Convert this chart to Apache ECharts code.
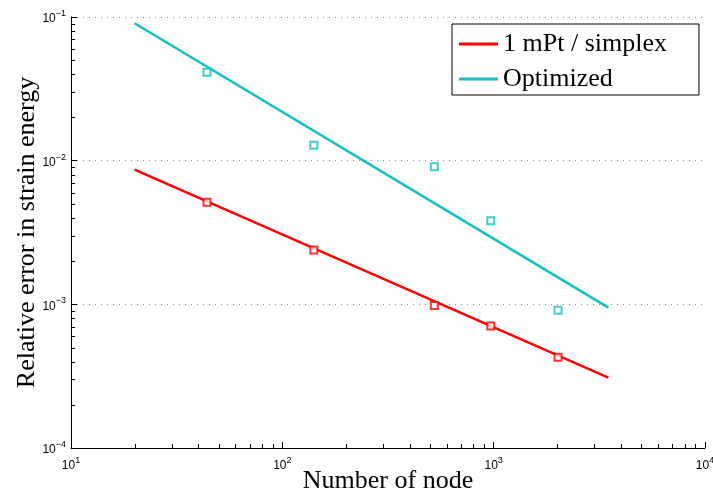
<!DOCTYPE html>
<html>
<head>
<meta charset="utf-8">
<script src="https://cdn.jsdelivr.net/npm/echarts@6/dist/echarts.min.js"></script>
<style>
html,body{margin:0;padding:0;background:#fff;}
#chart{width:713px;height:499px;}
</style>
</head>
<body>
<div id="chart"></div>
<script>
// Data
const seriesNames = ['1 mPt / simplex', 'Optimized'];
const nodesMeasured = [44, 141, 524, 969, 2017];
const errSimplex = [5.13e-3, 2.39e-3, 9.8e-4, 7.08e-4, 4.28e-4];
const errOptimized = [4.12e-2, 1.28e-2, 9.08e-3, 3.81e-3, 9.1e-4];
const fitNodes = [20, 3490];
const fitSimplex = [8.66e-3, 3.09e-4];
const fitOptimized = [9.04e-2, 9.48e-4];
const xRange = [10, 10000];
const yRange = [1e-4, 1e-1];

const RED = '#ff0000';
const CYAN = '#13bfbf';
const serif = '"Liberation Serif", "DejaVu Serif", serif';
const sans = '"Liberation Sans", Arial, sans-serif';

function pair(xs, ys) { return xs.map((x, i) => [x, ys[i]]); }

function expLabel(v) {
  const e = Math.round(Math.log10(v));
  return '{b|10}{s|' + (e < 0 ? '\u2212' + (-e) : e) + '}';
}
const labelRich = {
  b: { fontSize: 12, fontFamily: sans, color: '#000', verticalAlign: 'bottom' },
  s: { fontSize: 9, fontFamily: sans, color: '#000', verticalAlign: 'bottom', padding: [0, 0, 7, 0] }
};

// minor log ticks (2..9 within each decade) drawn through the axes' scales
function minorTicks(params, api) {
  const children = [];
  const origin = api.coord([xRange[0], yRange[0]]);
  const style = { stroke: '#000', lineWidth: 1 };
  for (let d = Math.log10(xRange[0]); d < Math.log10(xRange[1]); d++) {
    for (let m = 2; m <= 9; m++) {
      const px = Math.round(api.coord([m * Math.pow(10, d), yRange[0]])[0]) + 0.5;
      children.push({ type: 'line', shape: { x1: px, y1: origin[1], x2: px, y2: origin[1] - 4 }, style });
    }
  }
  for (let d = Math.log10(yRange[0]); d < Math.log10(yRange[1]); d++) {
    for (let m = 2; m <= 9; m++) {
      const py = Math.round(api.coord([xRange[0], m * Math.pow(10, d)])[1]) + 0.5;
      children.push({ type: 'line', shape: { x1: origin[0], y1: py, x2: origin[0] + 4, y2: py }, style });
    }
  }
  return { type: 'group', children };
}

const chart = echarts.init(document.getElementById('chart'), null, { renderer: 'canvas' });
chart.setOption({
  animation: false,
  backgroundColor: '#fff',
  grid: { left: 71, right: 8, top: 17, bottom: 51, containLabel: false, outerBoundsMode: 'none' },
  legend: {
    data: seriesNames,
    orient: 'vertical',
    left: 452, top: 24,
    padding: [7, 32, 3, 7],
    itemWidth: 39, itemHeight: 3, itemGap: 9,
    icon: 'rect',
    borderColor: '#000', borderWidth: 1, borderRadius: 0,
    backgroundColor: '#fff',
    textStyle: { fontFamily: serif, fontSize: 26, color: '#000', lineHeight: 24 }
  },
  xAxis: {
    type: 'log', logBase: 10, min: xRange[0], max: xRange[1],
    name: 'Number of node', nameLocation: 'middle', nameGap: 20, nameMoveOverlap: false,
    nameTextStyle: { fontFamily: serif, fontSize: 26, color: '#000' },
    axisLine: { lineStyle: { color: '#000', width: 1 } },
    axisTick: { inside: true, length: 6, lineStyle: { color: '#000' } },
    splitLine: { show: false },
    axisLabel: { formatter: expLabel, rich: labelRich, margin: 8 }
  },
  yAxis: {
    type: 'log', logBase: 10, min: yRange[0], max: yRange[1],
    name: 'Relative error in strain energy', nameLocation: 'middle', nameGap: 31, nameMoveOverlap: false,
    nameTextStyle: { fontFamily: serif, fontSize: 26, color: '#000' },
    axisLine: { lineStyle: { color: '#000', width: 1 } },
    axisTick: { inside: true, length: 6, lineStyle: { color: '#000' } },
    splitLine: { show: true, lineStyle: { color: '#8a8a8a', type: [1, 5], width: 1 } },
    axisLabel: { formatter: expLabel, rich: labelRich, margin: 5 }
  },
  series: [
    {
      name: seriesNames[0], type: 'line', data: pair(fitNodes, fitSimplex),
      symbol: 'none', lineStyle: { color: RED, width: 2.5 }, itemStyle: { color: RED }, z: 3
    },
    {
      name: seriesNames[1], type: 'line', data: pair(fitNodes, fitOptimized),
      symbol: 'none', lineStyle: { color: CYAN, width: 2.5 }, itemStyle: { color: CYAN }, z: 3
    },
    {
      name: 'simplex data', type: 'scatter', data: pair(nodesMeasured, errSimplex),
      symbol: 'rect', symbolSize: 7,
      itemStyle: { color: '#fff', borderColor: RED, borderWidth: 2 }, z: 4
    },
    {
      name: 'optimized data', type: 'scatter', data: pair(nodesMeasured, errOptimized),
      symbol: 'rect', symbolSize: 7,
      itemStyle: { color: '#fff', borderColor: CYAN, borderWidth: 2 }, z: 4
    },
    {
      name: 'minor ticks', type: 'custom', data: [[xRange[0], yRange[0]]],
      renderItem: minorTicks, silent: true, clip: false, z: 5
    }
  ]
});
</script>
</body>
</html>
